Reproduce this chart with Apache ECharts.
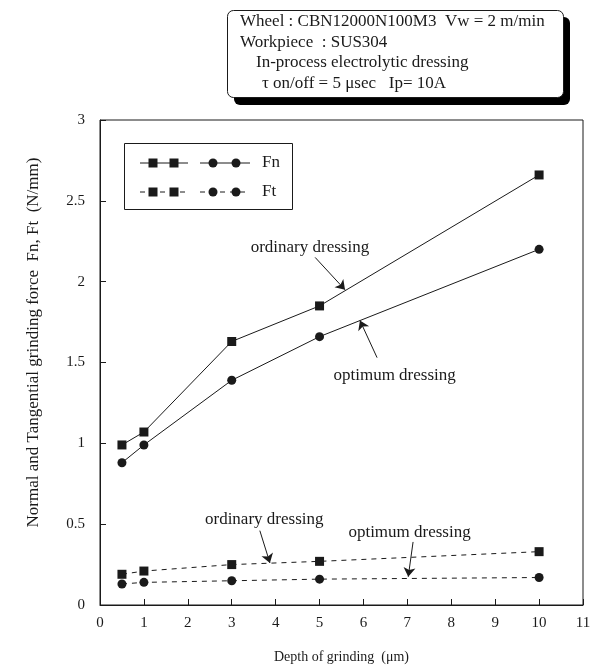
<!DOCTYPE html>
<html>
<head>
<meta charset="utf-8">
<script src="https://cdn.jsdelivr.net/npm/echarts@6/dist/echarts.min.js"></script>
<style>
  html, body { margin: 0; padding: 0; background: #fff; }
  #chart { width: 604px; height: 669px; }
</style>
</head>
<body>
<div id="chart"></div>
<script>
// depth of grinding (um)
const depths = [0.5, 1, 3, 5, 10]
// forces (N/mm)
const fnOrdinary = [0.99, 1.07, 1.63, 1.85, 2.66]
const fnOptimum = [0.88, 0.99, 1.39, 1.66, 2.2]
const ftOrdinary = [0.19, 0.21, 0.25, 0.27, 0.33]
const ftOptimum = [0.13, 0.14, 0.15, 0.16, 0.17]

const yTicks = ['0', '0.5', '1', '1.5', '2', '2.5', '3']

// annotation: label position and arrow start/end, in data units
const notes = [
  { text: 'ordinary dressing', at: [4.78, 2.21], from: [4.9, 2.15], to: [5.58, 1.95], series: 0 },
  { text: 'optimum dressing', at: [6.71, 1.42], from: [6.31, 1.53], to: [5.92, 1.76], series: 1 },
  { text: 'ordinary dressing', at: [3.74, 0.53], from: [3.64, 0.46], to: [3.87, 0.26], series: 2 },
  { text: 'optimum dressing', at: [7.05, 0.45], from: [7.13, 0.39], to: [7.02, 0.175], series: 3 },
]

const serif = '"Liberation Serif", "DejaVu Serif", serif'
const ink = '#1a1a1a'

const chart = echarts.init(document.getElementById('chart'))

function pts(ys) {
  return depths.map((d, i) => [d, ys[i]])
}

function annot(idx) {
  const list = notes.filter(n => n.series === idx)
  return {
    markLine: {
      silent: true,
      symbol: ['none', 'arrow'],
      symbolSize: 9,
      label: { show: false },
      lineStyle: { color: ink, width: 1, type: 'solid' },
      itemStyle: { color: ink },
      data: list.map(n => [{ coord: n.from }, { coord: n.to }]),
    },
    markPoint: {
      silent: true,
      symbol: 'circle',
      symbolSize: 1,
      itemStyle: { color: 'rgba(0,0,0,0)' },
      label: {
        show: true,
        position: 'inside',
        color: ink,
        fontFamily: serif,
        fontSize: 17,
        formatter: p => p.name,
      },
      data: list.map(n => ({ name: n.text, coord: n.at })),
    },
  }
}

const seriesDefs = [
  { name: 'Fn ordinary', data: fnOrdinary, symbol: 'rect', size: 9, dash: 'solid' },
  { name: 'Fn optimum', data: fnOptimum, symbol: 'circle', size: 9, dash: 'solid' },
  { name: 'Ft ordinary', data: ftOrdinary, symbol: 'rect', size: 9, dash: [5, 5] },
  { name: 'Ft optimum', data: ftOptimum, symbol: 'circle', size: 9, dash: [5, 5] },
]

// legend drawn by hand, two markers per row
const legendRows = [
  { label: 'Fn', y: 163, dash: null },
  { label: 'Ft', y: 192, dash: [5, 5] },
]
const legendGraphics = [
  { type: 'rect', shape: { x: 124.5, y: 143.5, width: 168, height: 66 }, style: { fill: '#fff', stroke: ink, lineWidth: 1 } },
]
legendRows.forEach(r => {
  legendGraphics.push(
    { type: 'line', shape: { x1: 140, y1: r.y, x2: 188, y2: r.y }, style: { stroke: ink, lineWidth: 1, lineDash: r.dash } },
    { type: 'line', shape: { x1: 200, y1: r.y, x2: 250, y2: r.y }, style: { stroke: ink, lineWidth: 1, lineDash: r.dash } },
    { type: 'rect', shape: { x: 148.5, y: r.y - 4.5, width: 9, height: 9 }, style: { fill: ink } },
    { type: 'rect', shape: { x: 169.5, y: r.y - 4.5, width: 9, height: 9 }, style: { fill: ink } },
    { type: 'circle', shape: { cx: 213, cy: r.y, r: 4.5 }, style: { fill: ink } },
    { type: 'circle', shape: { cx: 236, cy: r.y, r: 4.5 }, style: { fill: ink } },
    { type: 'text', x: 262, y: r.y, style: { text: r.label, fill: ink, font: '17px ' + serif, verticalAlign: 'middle' } }
  )
})

const infoLines = [
  { text: 'Wheel : CBN12000N100M3  Vw = 2 m/min', x: 240 },
  { text: 'Workpiece  : SUS304', x: 240 },
  { text: 'In-process electrolytic dressing', x: 256 },
  { text: 'τ on/off = 5 μsec   Ip= 10A', x: 262 },
]
const infoGraphics = [
  { type: 'rect', shape: { x: 234, y: 17, width: 336, height: 88, r: 6 }, style: { fill: '#000' } },
  { type: 'rect', shape: { x: 227.5, y: 10.5, width: 336, height: 87, r: 6 }, style: { fill: '#fff', stroke: ink, lineWidth: 1 } },
]
infoLines.forEach((l, i) => {
  infoGraphics.push({
    type: 'text', x: l.x, y: 22 + i * 20.5,
    style: { text: l.text, fill: ink, font: '17px ' + serif, verticalAlign: 'middle' },
  })
})

const option = {
  animation: false,
  backgroundColor: '#fff',
  grid: { left: 100, top: 120, width: 483, height: 485, show: true, borderColor: ink, borderWidth: 1 },
  xAxis: {
    type: 'value',
    min: 0,
    max: 11,
    interval: 1,
    name: 'Depth of grinding  (μm)',
    nameLocation: 'middle',
    nameGap: 45,
    nameTextStyle: { fontFamily: serif, fontSize: 14, color: ink },
    axisLine: { lineStyle: { color: ink } },
    axisTick: { inside: true, length: 6, lineStyle: { color: ink } },
    axisLabel: { margin: 11, fontFamily: serif, fontSize: 15, color: ink },
    splitLine: { show: false },
  },
  yAxis: {
    type: 'value',
    min: 0,
    max: 3,
    interval: 0.5,
    name: 'Normal and Tangential grinding force  Fn, Ft  (N/mm)',
    nameLocation: 'middle',
    nameGap: 58,
    nameTextStyle: { fontFamily: serif, fontSize: 17, color: ink, padding: [0, 0, 0, 40] },
    axisLine: { lineStyle: { color: ink } },
    axisTick: { inside: true, length: 6, lineStyle: { color: ink } },
    axisLabel: { margin: 15, fontFamily: serif, fontSize: 15, color: ink, formatter: (v, i) => yTicks[i] },
    splitLine: { show: false },
  },
  series: seriesDefs.map((s, i) => Object.assign({
    name: s.name,
    type: 'line',
    data: pts(s.data),
    symbol: s.symbol,
    symbolSize: s.size,
    showSymbol: true,
    itemStyle: { color: ink },
    lineStyle: { color: ink, width: 1, type: s.dash },
    z: 3,
  }, annot(i))),
  graphic: legendGraphics.concat(infoGraphics),
}

chart.setOption(option)
</script>
</body>
</html>
